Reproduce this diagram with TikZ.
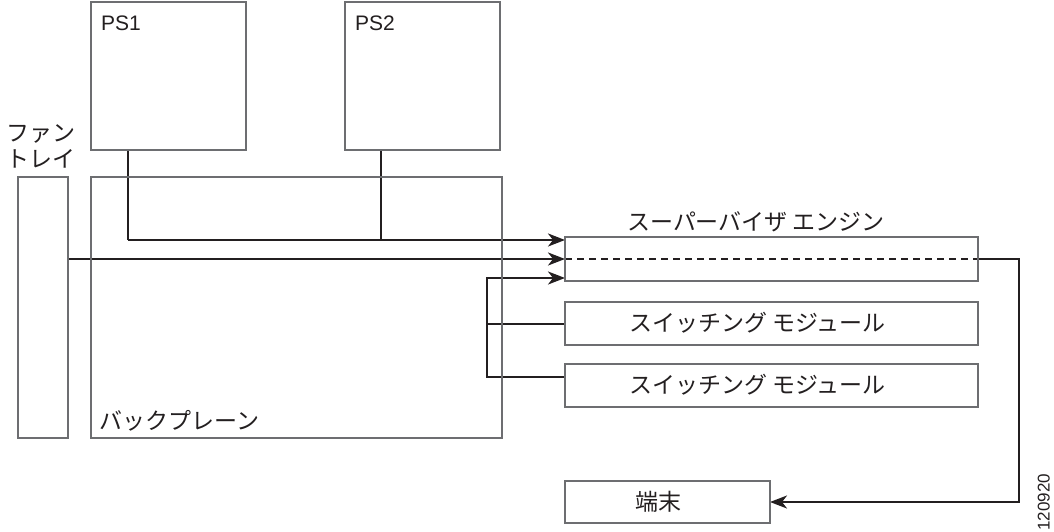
\documentclass[tikz,border=0pt]{standalone}
\usepackage{fontspec}
\setmainfont{Liberation Sans}
\newfontfamily\jp{Noto Sans CJK JP}
\usetikzlibrary{arrows.meta}
\definecolor{boxgray}{HTML}{6D6E71}
\definecolor{ink}{HTML}{231F20}
\tikzset{
  x=1pt,y=-1pt,
  frame/.style={draw=boxgray,line width=1.3pt},
  conn/.style={draw=ink,line width=2.3pt},
  arr/.style={conn,-{Stealth[length=17pt,width=13pt,inset=5pt]}},
  jtext/.style={font=\jp\fontsize{23}{26}\selectfont,text=ink,inner sep=0pt},
  ltext/.style={font=\fontsize{21}{24}\selectfont,text=ink,inner sep=0pt},
}
\begin{document}
\begin{tikzpicture}
\useasboundingbox (0,0) rectangle (1054,532);
% connectors
\coordinate (p1) at (128,150);
\coordinate (p2) at (381,150);
\coordinate (j1) at (128,240);
\coordinate (j2) at (381,240);
\coordinate (ft) at (68,259);
\coordinate (sa) at (565,240);
\coordinate (sb) at (565,259);
\coordinate (sc) at (565,278);
\coordinate (br) at (487,278);
\coordinate (sm1) at (565,324);
\coordinate (sm2) at (565,377);
\coordinate (se) at (978,259);
\coordinate (tm) at (770,502);
\draw[conn] (p1) -- (j1);
\draw[conn] (p2) -- (j2);
\draw[arr] (j1) -- (sa);
\draw[arr] (ft) -- (sb);
\draw[arr] (sm2) -- (br |- sm2) -- (br) -- (sc);
\draw[conn] (sm1) -- (br |- sm1);
\draw[draw=ink,line width=2.3pt,dash pattern=on 7pt off 5pt] (sb) -- (se);
\draw[arr] (se) -- (1019,259) -- (1019,502) -- (tm);
% boxes
\draw[frame] (91,2) rectangle (246,150);
\draw[frame] (345,2) rectangle (500,150);
\draw[frame] (18,177) rectangle (68,438);
\draw[frame] (91,177) rectangle (502,438);
\draw[frame] (565,237) rectangle (978,281);
\draw[frame] (565,302) rectangle (978,345);
\draw[frame] (565,364) rectangle (978,407);
\draw[frame] (565,481) rectangle (770,523);
% labels
\node[ltext,anchor=north west] (ps1) at (101,16) {PS1};
\node[ltext,anchor=north west] (ps2) at (355,16) {PS2};
\node[jtext,align=center] (fan) at (41,146) {ファン\\トレイ};
\node[jtext,anchor=west] (bp) at (99,421) {バックプレーン};
\node[jtext,anchor=west] (sup) at (627,222) {スーパーバイザ エンジン};
\node[jtext,anchor=west] (sw1) at (629,323) {スイッチング モジュール};
\node[jtext,anchor=west] (sw2) at (629,385) {スイッチング モジュール};
\node[jtext] (term) at (658,502) {端末};
\node[font=\fontsize{17}{19}\selectfont,text=ink,rotate=90,inner sep=0pt,anchor=south west] (num) at (1050,531) {120920};
\end{tikzpicture}
\end{document}
